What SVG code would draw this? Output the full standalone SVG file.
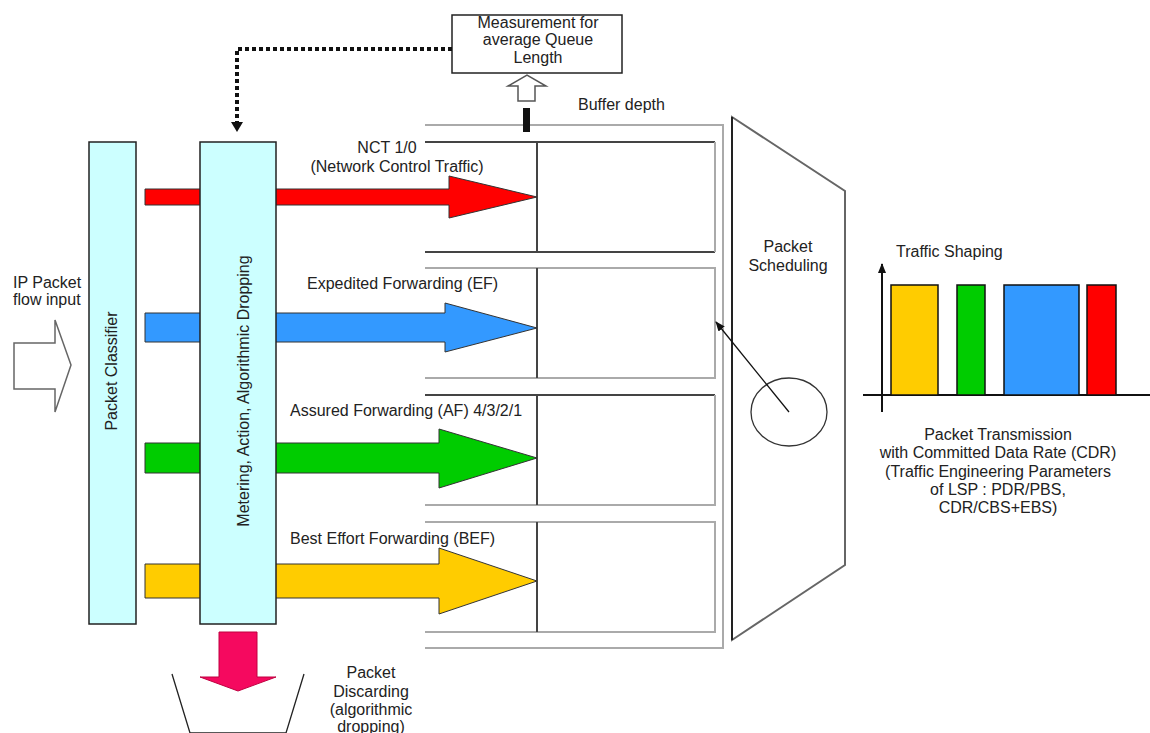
<svg xmlns="http://www.w3.org/2000/svg" width="1150" height="733" viewBox="0 0 1150 733">
<defs>
<style>
text{font-family:"Liberation Sans",Arial,sans-serif;font-size:16px;fill:#222}
.c{text-anchor:middle}
.col{fill:#ccffff;stroke:#222;stroke-width:1.5}
.arr{stroke:#333;stroke-width:1}
.qd{stroke:#444;stroke-width:2;fill:none}
.qg{stroke:#aaa;stroke-width:2;fill:none}
.bar{stroke:#111;stroke-width:1.5}
</style>
<marker id="ah" markerWidth="10" markerHeight="8" refX="9" refY="4" orient="auto" markerUnits="userSpaceOnUse">
<path d="M0,0 L10,4 L0,8 z" fill="#111"/>
</marker>
</defs>
<rect width="1150" height="733" fill="#fff"/>

<g id="input-arrow">
<polygon points="14,343 55,343 55,320 71,365 55,412 55,389 14,389" fill="#fff" stroke="#666" stroke-width="1.5"/>
<text x="13" y="288">IP Packet</text>
<text x="13" y="305">flow input</text>
</g>

<g id="queue-frame">
<polyline class="qg" points="425,125 723,125 723,648 425,648"/>
</g>
<g id="queue-nct">
<polyline class="qd" points="425,142 715,142"/>
<polyline class="qd" points="425,252 715,252"/>
<line class="qg" x1="715" y1="142" x2="715" y2="252"/>
<line class="qd" x1="537" y1="142" x2="537" y2="252" stroke-width="1.5"/>
</g>
<g id="queue-ef">
<polyline class="qg" points="425,268 715,268 715,378 425,378"/>
<line class="qd" x1="537" y1="268" x2="537" y2="378" stroke-width="1.5"/>
</g>
<g id="queue-af">
<polyline class="qd" points="425,395 715,395"/>
<polyline class="qg" points="715,395 715,505 425,505"/>
<line class="qd" x1="537" y1="395" x2="537" y2="505" stroke-width="1.5"/>
</g>
<g id="queue-bef">
<polyline class="qg" points="425,522 715,522 715,632 425,632"/>
<line class="qd" x1="537" y1="522" x2="537" y2="632" stroke-width="1.5"/>
</g>

<g id="flow-arrows">
<polygon class="arr" fill="#ff0000" points="145,189 449,189 449,176 537,197 449,218 449,205 145,205"/>
<polygon class="arr" fill="#3399ff" points="145,313 445,313 445,303 537,328 445,352 445,342 145,342"/>
<polygon class="arr" fill="#00cc00" points="145,443 439,443 439,429 537,458 439,488 439,473 145,473"/>
<polygon class="arr" fill="#ffcc00" points="145,564 439,564 439,548 537,581 439,614 439,598 145,598"/>
</g>

<g id="packet-classifier">
<rect class="col" x="89" y="142" width="47" height="482"/>
<text class="c" transform="translate(117,371) rotate(-90)">Packet Classifier</text>
</g>
<g id="metering">
<rect class="col" x="200" y="142" width="76" height="482"/>
<text class="c" transform="translate(249,391) rotate(-90)">Metering, Action, Algorithmic Dropping</text>
</g>

<g id="labels">
<text class="c" x="387" y="153">NCT 1/0</text>
<text class="c" x="397" y="172">(Network Control Traffic)</text>
<text x="307" y="289">Expedited Forwarding (EF)</text>
<text x="290" y="416">Assured Forwarding (AF) 4/3/2/1</text>
<text x="290" y="544">Best Effort Forwarding (BEF)</text>
<text x="578" y="110">Buffer depth</text>
</g>

<g id="measurement">
<rect x="452" y="15" width="170" height="58" fill="#fff" stroke="#222" stroke-width="1.5"/>
<text class="c" x="538" y="28">Measurement for</text>
<text class="c" x="538" y="45">average Queue</text>
<text class="c" x="538" y="63">Length</text>
</g>

<g id="scheduler">
<polygon points="732,117 845,191 845,565 732,640" fill="#fff" stroke="#666" stroke-width="2"/>
<line x1="732" y1="117" x2="732" y2="640" stroke="#222" stroke-width="2"/>
<text class="c" x="788" y="252">Packet</text>
<text class="c" x="788" y="271">Scheduling</text>
<ellipse cx="789" cy="412" rx="38" ry="34" fill="none" stroke="#333" stroke-width="1.3"/>
</g>

<g id="traffic-shaping">
<line x1="882" y1="412" x2="882" y2="264" stroke="#111" stroke-width="2" marker-end="url(#ah)"/>
<line x1="863" y1="395" x2="1150" y2="395" stroke="#111" stroke-width="2"/>
<rect class="bar" x="891" y="285" width="47" height="110" fill="#ffcc00"/>
<rect class="bar" x="957" y="285" width="28" height="110" fill="#00cc00"/>
<rect class="bar" x="1004" y="285" width="75" height="110" fill="#3399ff"/>
<rect class="bar" x="1087" y="285" width="29" height="110" fill="#ff0000"/>
<text x="896" y="257">Traffic Shaping</text>
<text class="c" x="998" y="440">Packet Transmission</text>
<text class="c" x="998" y="458">with Committed Data Rate (CDR)</text>
<text class="c" x="998" y="477">(Traffic Engineering Parameters</text>
<text class="c" x="998" y="495">of LSP : PDR/PBS,</text>
<text class="c" x="998" y="513">CDR/CBS+EBS)</text>
</g>

<g id="discard">
<polygon points="219,632 257,632 257,677 276,677 238,691 200,677 219,677" fill="#f5095f" stroke="#c00040" stroke-width="1"/>
<polyline points="172,674 190,733 286,733 304,674" fill="none" stroke="#222" stroke-width="1.3"/>
<text class="c" x="371" y="678">Packet</text>
<text class="c" x="371" y="697">Discarding</text>
<text class="c" x="371" y="715">(algorithmic</text>
<text class="c" x="371" y="732">dropping)</text>
</g>

<g id="connectors">
<path d="M452,49 H237 V122" fill="none" stroke="#111" stroke-width="4" stroke-dasharray="4,3"/>
<polygon points="231,122 243,122 237,132" fill="#111"/>
<polygon points="518,101 535,101 535,86 546,86 527,75 508,86 518,86" fill="#fff" stroke="#555" stroke-width="1.5"/>
<rect x="523" y="108" width="7" height="24" fill="#111"/>
<line x1="789" y1="412" x2="716" y2="322" stroke="#111" stroke-width="1.3" marker-end="url(#ah)"/>
</g>
</svg>
